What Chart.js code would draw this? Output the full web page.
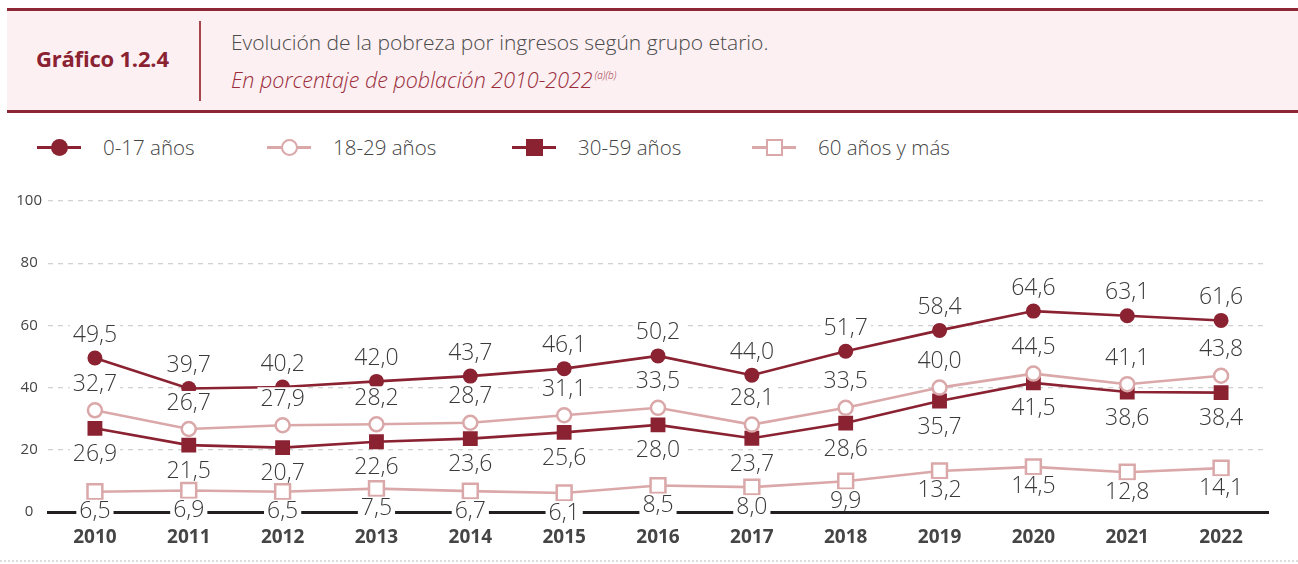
<!DOCTYPE html>
<html lang="es">
<head>
<meta charset="utf-8">
<title>Gráfico 1.2.4</title>
<script src="https://cdn.jsdelivr.net/npm/chart.js@4"></script>
<style>
  html, body { margin: 0; padding: 0; background: #fff; }
  body { width: 1298px; height: 564px; position: relative; overflow: hidden;
         font-family: "Open Sans", "Noto Sans", sans-serif; color: #444; }
  .head { position: absolute; left: 7px; top: 8px; width: 1291px; height: 99px;
          background: #fcf0f2; border-top: 3px solid #8d2735; border-bottom: 3px solid #8d2735; }
  .head .num { position: absolute; left: 29px; top: 32px; font-size: 22px; font-weight: 700; color: #8a2232; letter-spacing: -0.2px; }
  .head .sep { position: absolute; left: 192px; top: 10px; width: 1.5px; height: 80px; background: #a8464f; }
  .head .t1 { position: absolute; left: 224px; top: 17px; font-size: 21px; font-weight: 300; color: #4a4a4a; }
  .head .t2 { position: absolute; left: 224px; top: 54px; font-size: 21.5px; font-weight: 300; font-style: italic; color: #9a2c3b; }
  .head .t2 sup { font-size: 10px; vertical-align: 9px; margin-left: 2px; }
  .legend { position: absolute; top: 134px; left: 0; height: 28px; }
  .lg { position: absolute; top: 0; height: 28px; }
  .lg .ln { position: absolute; top: 12px; width: 44px; height: 3px; }
  .lg .mk { position: absolute; box-sizing: border-box; }
  .lg span { position: absolute; left: 66px; top: -1px; font-size: 20.5px; font-weight: 300; white-space: nowrap; color: #444; }
  #wrap { position: absolute; left: 0; top: 180px; width: 1298px; height: 380px; }
  .dots { position: absolute; left: 0; top: 560px; width: 1298px; border-top: 2px dotted #ddd; }
</style>
</head>
<body>
<div class="head">
  <div class="num">Gráfico 1.2.4</div>
  <div class="sep"></div>
  <div class="t1">Evolución de la pobreza por ingresos según grupo etario.</div>
  <div class="t2">En porcentaje de población 2010-2022<sup>(a)(b)</sup></div>
</div>
<div class="legend" id="legend"></div>
<div id="wrap"><canvas id="chart"></canvas></div>
<div class="dots"></div>
<script>
const years = ["2010", "2011", "2012", "2013", "2014", "2015", "2016", "2017", "2018", "2019", "2020", "2021", "2022"];
const age0to17 = [49.5, 39.7, 40.2, 42.0, 43.7, 46.1, 50.2, 44.0, 51.7, 58.4, 64.6, 63.1, 61.6];
const age18to29 = [32.7, 26.7, 27.9, 28.2, 28.7, 31.1, 33.5, 28.1, 33.5, 40.0, 44.5, 41.1, 43.8];
const age30to59 = [26.9, 21.5, 20.7, 22.6, 23.6, 25.6, 28.0, 23.7, 28.6, 35.7, 41.5, 38.6, 38.4];
const age60plus = [6.5, 6.9, 6.5, 7.5, 6.7, 6.1, 8.5, 8.0, 9.9, 13.2, 14.5, 12.8, 14.1];
const seriesNames = ["0-17 años", "18-29 años", "30-59 años", "60 años y más"];
const yTicks = [0, 20, 40, 60, 80, 100];

const DARK = "#8a2232", LIGHT = "#dba8aa";

/* ---------- legend (html) ---------- */
const LEG = [
  { x: 37, color: DARK, shape: "circle", fill: DARK },
  { x: 267, color: LIGHT, shape: "circle", fill: "#fff" },
  { x: 512, color: DARK, shape: "square", fill: DARK },
  { x: 752, color: LIGHT, shape: "square", fill: "#fff" },
];
const legendEl = document.getElementById("legend");
legendEl.innerHTML = LEG.map((l, i) => {
  const circ = l.shape === "circle";
  const sz = 17;
  const mk = `left:${22 - sz / 2}px;top:${13.5 - sz / 2}px;width:${sz}px;height:${sz}px;` +
    `background:${l.fill};border:${l.fill === "#fff" ? 2.5 : 0}px solid ${l.color};` +
    (circ ? "border-radius:50%;" : "");
  return `<div class="lg" style="left:${l.x}px">
    <i class="ln" style="left:0;background:${l.color}"></i>
    <i class="mk" style="${mk}"></i>
    <span>${seriesNames[i]}</span></div>`;
}).join("");

/* ---------- value labels ---------- */
const LABEL_OFF = [-24, -27, 25, 19];   // px from point, per series
const fmtVal = (v) => v.toFixed(1).replace(".", ",");
const valueLabels = {
  id: "valueLabels",
  afterDatasetsDraw(chart) {
    const ctx = chart.ctx;
    ctx.save();
    ctx.font = "300 23px 'Open Sans', sans-serif";
    ctx.textAlign = "center";
    ctx.textBaseline = "middle";
    chart.data.datasets.forEach((ds, di) => {
      chart.getDatasetMeta(di).data.forEach((pt, i) => {
        const txt = fmtVal(ds.data[i]);
        const y = pt.y + LABEL_OFF[di];
        const w = ctx.measureText(txt).width;
        ctx.fillStyle = "#fff";
        ctx.fillRect(pt.x - w / 2 - 3, y - 11, w + 6, 21);
        ctx.fillStyle = "#3a3a3a";
        ctx.fillText(txt, pt.x, y + 1);
      });
    });
    ctx.restore();
  },
};

function line(label, data, color, style, filled, radius) {
  return {
    label, data, borderColor: color, borderWidth: 2.6,
    pointStyle: style, pointRadius: radius, pointHoverRadius: radius,
    pointBackgroundColor: filled ? color : "#fff", pointBorderColor: color,
    pointBorderWidth: filled ? 0 : 2.5, tension: 0, fill: false,
  };
}

new Chart(document.getElementById("chart"), {
  type: "line",
  data: {
    labels: years,
    datasets: [
      line(seriesNames[0], age0to17, DARK, "circle", true, 7.5),
      line(seriesNames[1], age18to29, LIGHT, "circle", false, 7),
      line(seriesNames[2], age30to59, DARK, "rect", true, 10.5),
      line(seriesNames[3], age60plus, LIGHT, "rect", false, 10.5),
    ],
  },
  options: {
    responsive: true, maintainAspectRatio: false, animation: false,
    layout: { padding: { top: 21, right: 30, left: 0, bottom: 0 } },
    scales: {
      x: {
        offset: true,
        grid: { display: false, drawTicks: false },
        border: { display: true, color: "#231f20", width: 3 },
        ticks: { padding: 14, color: "#454545", font: { family: "'Open Sans', sans-serif", size: 19, weight: "bold" } },
        afterFit: (s) => { s.height = 48; },
      },
      y: {
        min: 0, max: 100,
        afterBuildTicks: (s) => { s.ticks = yTicks.map((v) => ({ value: v })); },
        grid: { color: "#d2d2d2", lineWidth: 1.3, drawTicks: false },
        border: { display: false, dash: [5, 5] },
        ticks: { padding: 6, crossAlign: "center", color: "#444", font: { family: "'Open Sans', sans-serif", size: 15 } },
        afterFit: (s) => { s.width = 48; },
      },
    },
    plugins: { legend: { display: false }, tooltip: { enabled: false } },
  },
  plugins: [valueLabels],
});
</script>
</body>
</html>
